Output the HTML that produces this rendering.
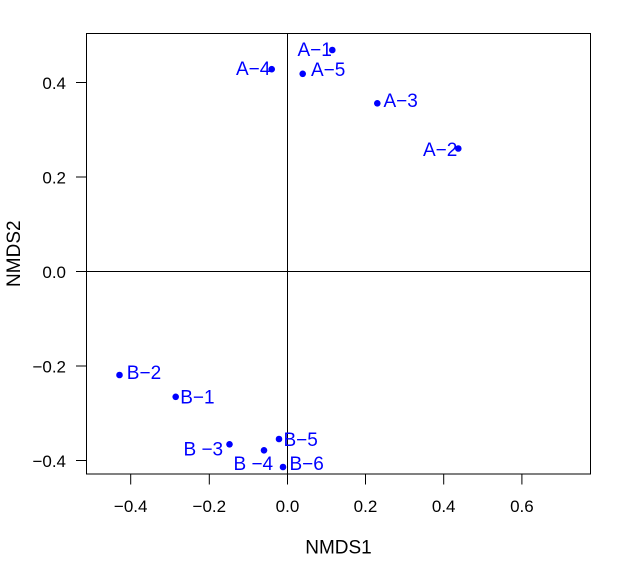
<!DOCTYPE html>
<html>
<head>
<meta charset="utf-8">
<style>
html,body{margin:0;padding:0;background:#fff;}
svg{display:block;}
text{font-family:"Liberation Sans",Arial,sans-serif;}
</style>
</head>
<body>
<svg width="634" height="574" viewBox="0 0 634 574" xmlns="http://www.w3.org/2000/svg">
<rect x="0" y="0" width="634" height="574" fill="#fff"/>
<!-- plot box -->
<rect x="86.5" y="33.5" width="504" height="440.5" fill="none" stroke="#000" stroke-width="1"/>
<!-- zero lines -->
<line x1="287.5" y1="33.5" x2="287.5" y2="474" stroke="#000" stroke-width="1"/>
<line x1="86.5" y1="271.5" x2="590.5" y2="271.5" stroke="#000" stroke-width="1"/>
<!-- y ticks -->
<g stroke="#000" stroke-width="1">
<line x1="76" y1="82.5" x2="86.5" y2="82.5"/>
<line x1="76" y1="177" x2="86.5" y2="177"/>
<line x1="76" y1="271.5" x2="86.5" y2="271.5"/>
<line x1="76" y1="366" x2="86.5" y2="366"/>
<line x1="76" y1="460.5" x2="86.5" y2="460.5"/>
<!-- x ticks -->
<line x1="130.7" y1="474" x2="130.7" y2="484.5"/>
<line x1="209.3" y1="474" x2="209.3" y2="484.5"/>
<line x1="287.5" y1="474" x2="287.5" y2="484.5"/>
<line x1="365.5" y1="474" x2="365.5" y2="484.5"/>
<line x1="443.7" y1="474" x2="443.7" y2="484.5"/>
<line x1="521.9" y1="474" x2="521.9" y2="484.5"/>
</g>
<!-- y tick labels -->
<g font-size="17" fill="#000" text-anchor="end">
<text x="66" y="88.8">0.4</text>
<text x="66" y="183.3">0.2</text>
<text x="66" y="277.8">0.0</text>
<text x="66" y="372.3">−0.2</text>
<text x="66" y="466.8">−0.4</text>
</g>
<!-- x tick labels -->
<g font-size="17" fill="#000" text-anchor="middle">
<text x="130.7" y="512">−0.4</text>
<text x="209.3" y="512">−0.2</text>
<text x="287.5" y="512">0.0</text>
<text x="365.5" y="512">0.2</text>
<text x="443.7" y="512">0.4</text>
<text x="521.9" y="512">0.6</text>
</g>
<!-- axis titles -->
<text x="338.5" y="553.3" font-size="19" text-anchor="middle" fill="#000">NMDS1</text>
<text transform="translate(20,253.7) rotate(-90)" x="0" y="0" font-size="19" text-anchor="middle" fill="#000">NMDS2</text>
<!-- points -->
<g fill="#0000FF">
<circle cx="332.3" cy="50" r="3.3"/>
<circle cx="271.7" cy="69.2" r="3.3"/>
<circle cx="302.7" cy="73.8" r="3.3"/>
<circle cx="377.3" cy="103.3" r="3.3"/>
<circle cx="458.3" cy="148.5" r="3.3"/>
<circle cx="119.5" cy="375" r="3.3"/>
<circle cx="175.7" cy="396.8" r="3.3"/>
<circle cx="229.5" cy="444.3" r="3.3"/>
<circle cx="264" cy="450.3" r="3.3"/>
<circle cx="279" cy="439" r="3.3"/>
<circle cx="283" cy="467" r="3.3"/>
</g>
<!-- labels -->
<g font-size="19" fill="#0000FF">
<text x="297.5" y="56">A−1</text>
<text x="236" y="75">A−4</text>
<text x="311" y="76">A−5</text>
<text x="383.5" y="107">A−3</text>
<text x="423" y="156">A−2</text>
<text x="126.8" y="379">B−2</text>
<text x="180.2" y="403.3">B−1</text>
<text x="183.5" y="455.7">B −3</text>
<text x="233.5" y="470">B −4</text>
<text x="283.5" y="446">B−5</text>
<text x="289.5" y="470">B−6</text>
</g>
</svg>
</body>
</html>
